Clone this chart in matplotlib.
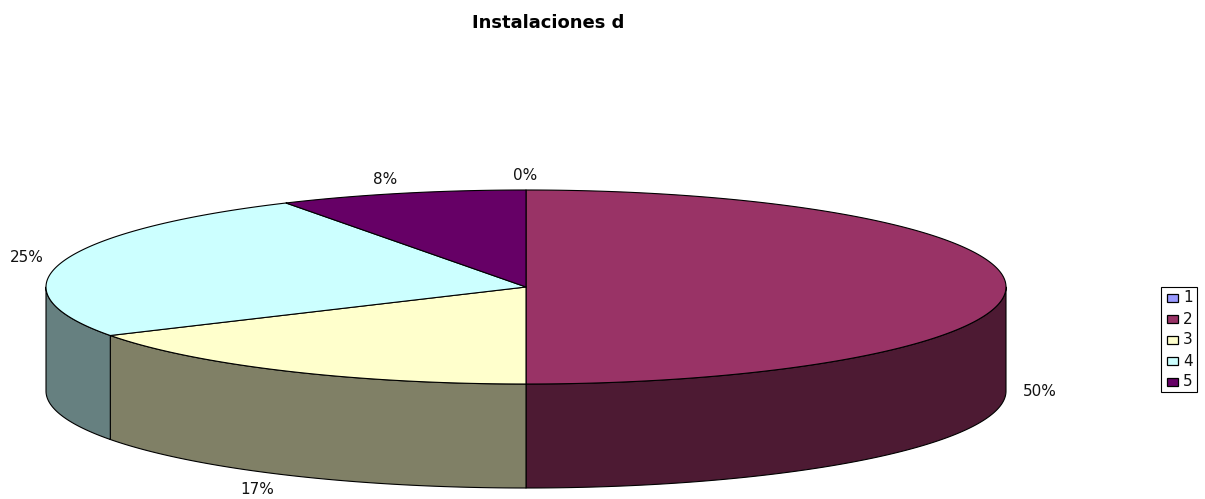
import numpy as np
import matplotlib
matplotlib.use("Agg")
import matplotlib.pyplot as plt
from matplotlib.patches import Polygon, Rectangle

categories = ["1", "2", "3", "4", "5"]
values = [0, 6, 2, 3, 1]
pct_labels = ["0%", "50%", "17%", "25%", "8%"]
top_colors = ["#9999FF", "#993366", "#FFFFCC", "#CCFFFF", "#660066"]
side_colors = ["#4C4C80", "#4D1A33", "#808066", "#668080", "#330033"]
label_pos = [(525, 175), (1040, 391), (257, 489), (27, 258), (385, 179)]

plt.rcParams["font.family"] = ["DejaVu Sans"]
W, H = 1205, 499
fig = plt.figure(figsize=(W / 100, H / 100), dpi=100, facecolor="white")
ax = fig.add_axes([0, 0, 1, 1])
ax.set_xlim(0, W)
ax.set_ylim(H, 0)
ax.axis("off")

cx, cy, rx, ry, depth = 526, 287, 480, 97, 104


def ell(t, dy=0):
    return np.column_stack([cx + rx * np.sin(t), cy - ry * np.cos(t) + dy])


fracs = np.array(values, dtype=float) / sum(values)
edges = np.concatenate([[0], np.cumsum(fracs)]) * 2 * np.pi
ec = "#000000"
lw = 0.8

# side walls (only the front half, pi/2..3pi/2)
for i in range(len(values)):
    a, b = max(edges[i], np.pi / 2), min(edges[i + 1], 3 * np.pi / 2)
    if b <= a:
        continue
    t = np.linspace(a, b, 200)
    pts = np.vstack([ell(t), ell(t[::-1], depth)])
    ax.add_patch(Polygon(pts, closed=True, fc=side_colors[i], ec=ec, lw=lw, joinstyle="round"))

# top faces
for i in range(len(values)):
    if values[i] == 0:
        continue
    t = np.linspace(edges[i], edges[i + 1], 300)
    pts = np.vstack([[cx, cy], ell(t)])
    ax.add_patch(Polygon(pts, closed=True, fc=top_colors[i], ec=ec, lw=lw, joinstyle="round"))

for s, (x, y) in zip(pct_labels, label_pos):
    ax.text(x, y, s, fontsize=11, ha="center", va="center", color="#111111")

ax.text(548, 23, "Instalaciones d", fontsize=13, fontweight="bold", ha="center", va="center")

# legend
ax.add_patch(Rectangle((1161, 287), 36, 105, fc="white", ec="black", lw=0.8))
for i, c in enumerate(categories):
    y = 298 + i * 21
    ax.add_patch(Rectangle((1167, y - 4), 11, 8, fc=top_colors[i], ec="black", lw=0.9))
    ax.text(1183, y, c, fontsize=11, ha="left", va="center", color="#111111")

fig.savefig("out.png", dpi=100)
